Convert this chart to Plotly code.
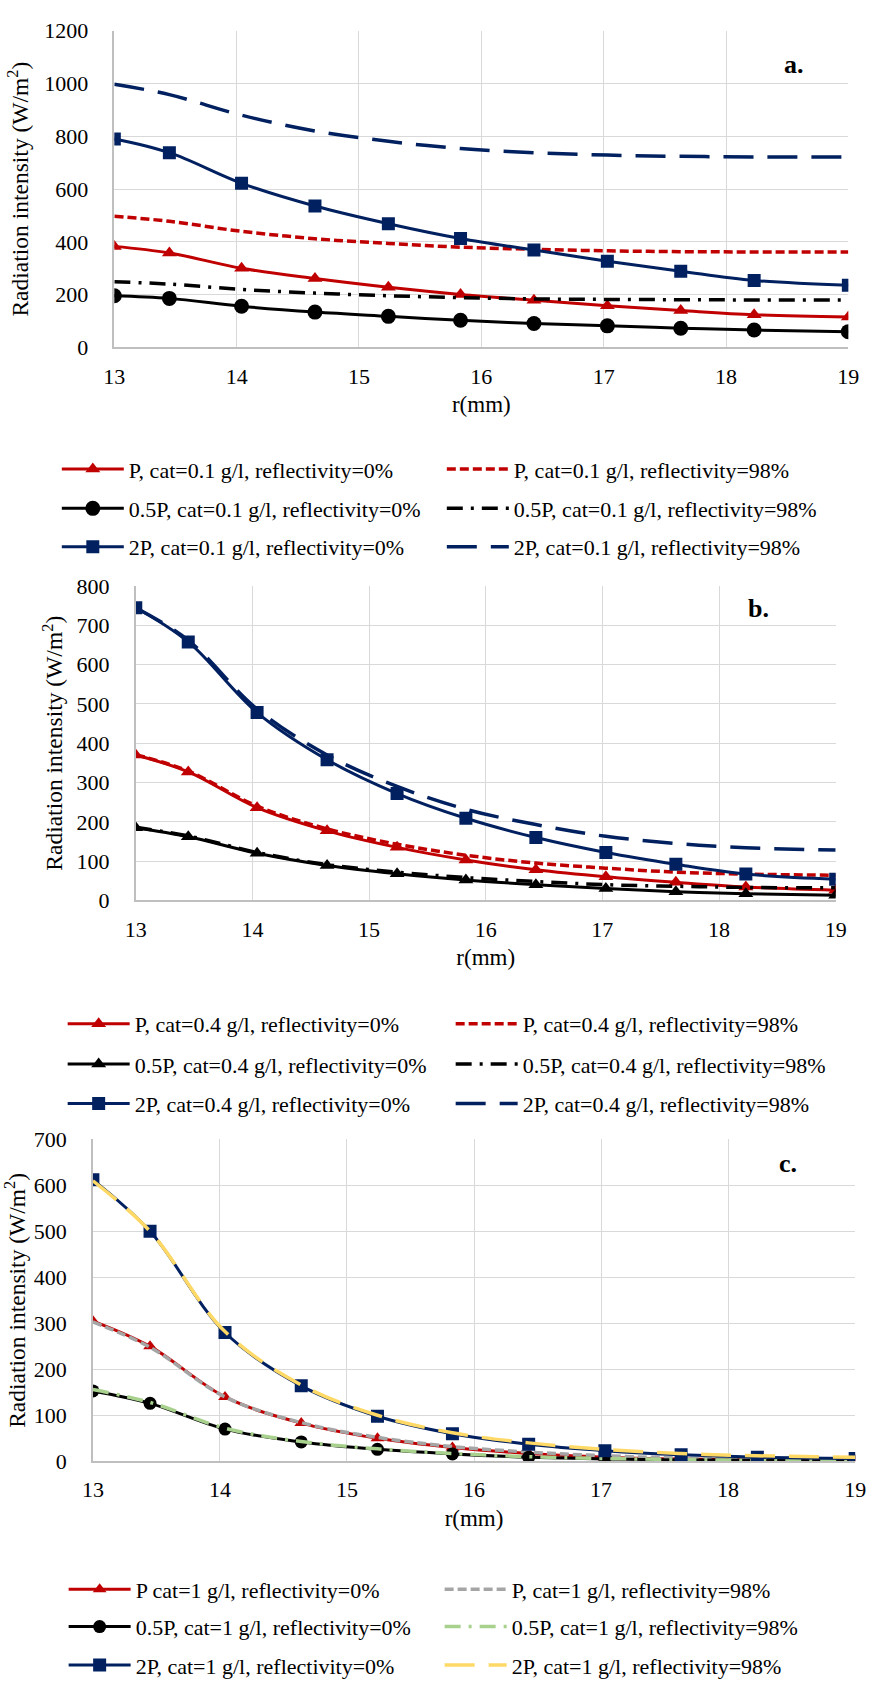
import plotly.graph_objects as go

W, H = 873, 1693

# ---------------- data ----------------
r_mm = [13, 13.45, 14.04, 14.64, 15.24, 15.83, 16.43, 17.03, 17.63, 18.23, 19]

# (a) cat = 0.1 g/l
a_P_0 = [383, 358, 300, 261, 228, 201, 179, 158, 140, 124, 115]
a_P_98 = [497, 478, 440, 412, 394, 380, 372, 366, 363, 362, 362]
a_05P_0 = [196, 186, 156, 134, 118, 103, 91, 82, 73, 66, 60]
a_05P_98 = [249, 240, 220, 206, 196, 189, 184, 182, 181, 180, 180]
a_2P_0 = [790, 738, 622, 536, 469, 413, 369, 327, 289, 254, 236]
a_2P_98 = [997, 958, 880, 820, 781, 754, 738, 729, 724, 722, 722]

# (b) cat = 0.4 g/l
b_P_0 = [370, 327, 236, 177, 135, 103, 78, 60, 46, 34, 26]
b_P_98 = [371, 329, 240, 182, 143, 115, 95, 82, 72, 67, 64]
b_05P_0 = [185, 162, 120, 89, 68, 52, 40, 30, 22, 17, 13]
b_05P_98 = [186, 164, 122, 91, 72, 58, 48, 40, 36, 33, 32]
b_2P_0 = [745, 658, 478, 358, 272, 209, 160, 122, 92, 67, 54]
b_2P_98 = [745, 662, 487, 370, 290, 232, 193, 163, 145, 134, 128]

# (c) cat = 1 g/l
c_P_0 = [305, 250, 140, 83, 50, 30, 17, 9, 5, 3, 2]
c_P_98 = [303, 248, 140, 84, 52, 32, 20, 12, 7, 4, 3]
c_05P_0 = [153, 126, 70, 42, 26, 16, 9, 5, 3, 2, 1]
c_05P_98 = [156, 128, 72, 43, 27, 17, 10, 6, 4, 2, 1]
c_2P_0 = [612, 500, 280, 164, 98, 60, 37, 23, 14, 9, 6]
c_2P_98 = [610, 500, 282, 166, 100, 62, 40, 26, 17, 12, 9]

names_a = ["P, cat=0.1 g/l, reflectivity=0%", "P, cat=0.1 g/l, reflectivity=98%",
           "0.5P, cat=0.1 g/l, reflectivity=0%", "0.5P, cat=0.1 g/l, reflectivity=98%",
           "2P, cat=0.1 g/l, reflectivity=0%", "2P, cat=0.1 g/l, reflectivity=98%"]
names_b = ["P, cat=0.4 g/l, reflectivity=0%", "P, cat=0.4 g/l, reflectivity=98%",
           "0.5P, cat=0.4 g/l, reflectivity=0%", "0.5P, cat=0.4 g/l, reflectivity=98%",
           "2P, cat=0.4 g/l, reflectivity=0%", "2P, cat=0.4 g/l, reflectivity=98%"]
names_c = ["P cat=1 g/l, reflectivity=0%", "P, cat=1 g/l, reflectivity=98%",
           "0.5P, cat=1 g/l, reflectivity=0%", "0.5P, cat=1 g/l, reflectivity=98%",
           "2P, cat=1 g/l, reflectivity=0%", "2P, cat=1 g/l, reflectivity=98%"]

y_ticks_a = [0, 200, 400, 600, 800, 1000, 1200]
y_ticks_b = [0, 100, 200, 300, 400, 500, 600, 700, 800]
y_ticks_c = [0, 100, 200, 300, 400, 500, 600, 700]
x_ticks = [13, 14, 15, 16, 17, 18, 19]

# ---------------- styles ----------------
RED, NAVY, BLACK = "#C00000", "#002060", "#000000"
GREY, GREEN, GOLD = "#A5A5A5", "#A9D18E", "#FFD966"
FONT = "Liberation Serif"
SHORT = "9px,4px"
LONG = "30px,14px"
DASHDOT = "16px,8px,3px,8px"
ITEMW = 62


def fx(px):
    return px / W


def fy(py):
    return 1 - py / H


# plot areas in pixels: (left, right, top, bottom)
boxes = [(106, 859, 19, 340.5), (128, 846, 582.7, 901.7), (84, 866, 1144.3, 1471)]
legend_rows = [[464, 504, 543], [1027, 1068, 1108], [1601, 1639, 1678]]
legend_cols = [(60, 445), (66, 454), (67, 443)]
panel_labels = [("a.", 803, 53), ("b.", 767, 605), ("c.", 797, 1169)]
ytitle_standoff = [9, 7, 7]

panels = [
    dict(names=names_a, ticks=y_ticks_a, ymax=1200,
         series=[(a_P_0, RED, "triangle-up", 13, None),
                 (a_P_98, RED, None, 0, SHORT),
                 (a_05P_0, BLACK, "circle", 15, None),
                 (a_05P_98, BLACK, None, 0, DASHDOT),
                 (a_2P_0, NAVY, "square", 13, None),
                 (a_2P_98, NAVY, None, 0, LONG)]),
    dict(names=names_b, ticks=y_ticks_b, ymax=800,
         series=[(b_P_0, RED, "triangle-up", 13, None),
                 (b_P_98, RED, None, 0, SHORT),
                 (b_05P_0, BLACK, "triangle-up", 13, None),
                 (b_05P_98, BLACK, None, 0, DASHDOT),
                 (b_2P_0, NAVY, "square", 13, None),
                 (b_2P_98, NAVY, None, 0, LONG)]),
    dict(names=names_c, ticks=y_ticks_c, ymax=700,
         series=[(c_P_0, RED, "triangle-up", 12, None),
                 (c_P_98, GREY, None, 0, SHORT),
                 (c_05P_0, BLACK, "circle", 13, None),
                 (c_05P_98, GREEN, None, 0, DASHDOT),
                 (c_2P_0, NAVY, "square", 13, None),
                 (c_2P_98, GOLD, None, 0, LONG)]),
]

fig = go.Figure()
layout = dict(width=W, height=H, margin=dict(l=0, r=0, t=0, b=0),
              paper_bgcolor="white", plot_bgcolor="white", showlegend=True,
              font=dict(family=FONT, color="black"), annotations=[])

for k, p in enumerate(panels):
    sfx = "" if k == 0 else str(k + 1)
    l, r, t, b = boxes[k]
    for i, (vals, col, sym, msize, dash) in enumerate(p["series"]):
        row = i // 2
        leg_idx = k * 3 + row + 1
        legname = "legend" if leg_idx == 1 else f"legend{leg_idx}"
        if sym:
            tr = go.Scatter(x=r_mm, y=vals, mode="lines+markers", name=p["names"][i],
                            line=dict(color=col, width=3, shape="spline"),
                            marker=dict(symbol=sym, size=msize, color=col),
                            xaxis="x" + sfx, yaxis="y" + sfx, legend=legname)
        else:
            tr = go.Scatter(x=r_mm, y=vals, mode="lines", name=p["names"][i],
                            line=dict(color=col, width=3.5, dash=dash, shape="spline"),
                            xaxis="x" + sfx, yaxis="y" + sfx, legend=legname)
        fig.add_trace(tr)

    layout["xaxis" + sfx] = dict(
        domain=[fx(l), fx(r)], range=[13, 19], anchor="y" + sfx,
        tickvals=x_ticks, ticks="", ticklabelstandoff=8,
        showgrid=True, gridcolor="#D9D9D9", gridwidth=1,
        showline=True, linecolor="#BFBFBF", linewidth=1.5, zeroline=False,
        tickfont=dict(family=FONT, size=22, color="black"),
        title=dict(text="r(mm)", font=dict(family=FONT, size=23, color="black"), standoff=8))
    layout["yaxis" + sfx] = dict(
        domain=[fy(b), fy(t)], range=[0, p["ymax"]], anchor="x" + sfx,
        tickvals=p["ticks"], ticks="", ticklabelstandoff=20,
        showgrid=True, gridcolor="#D9D9D9", gridwidth=1,
        showline=True, linecolor="#BFBFBF", linewidth=1.5, zeroline=False,
        tickfont=dict(family=FONT, size=22, color="black"),
        title=dict(text="Radiation intensity (W/m<sup>2</sup>)",
                   font=dict(family=FONT, size=23.5, color="black"),
                   standoff=ytitle_standoff[k]))

    for row in range(3):
        leg_idx = k * 3 + row + 1
        legname = "legend" if leg_idx == 1 else f"legend{leg_idx}"
        c1, c2 = legend_cols[k]
        layout[legname] = dict(
            orientation="h", x=fx(c1 - 13), xanchor="left",
            y=fy(legend_rows[k][row]), yanchor="middle",
            entrywidth=(c2 - c1) - ITEMW - 15, entrywidthmode="pixels", itemwidth=ITEMW,
            font=dict(family=FONT, size=22, color="black"),
            bgcolor="rgba(0,0,0,0)", borderwidth=0, tracegroupgap=0)

    lab, lx, ly = panel_labels[k]
    layout["annotations"].append(dict(
        text=f"<b>{lab}</b>", xref="paper", yref="paper", x=fx(lx), y=fy(ly),
        xanchor="center", yanchor="middle", showarrow=False,
        font=dict(family=FONT, size=26, color="black")))

fig.update_layout(**layout)
fig.write_html("out.html")
